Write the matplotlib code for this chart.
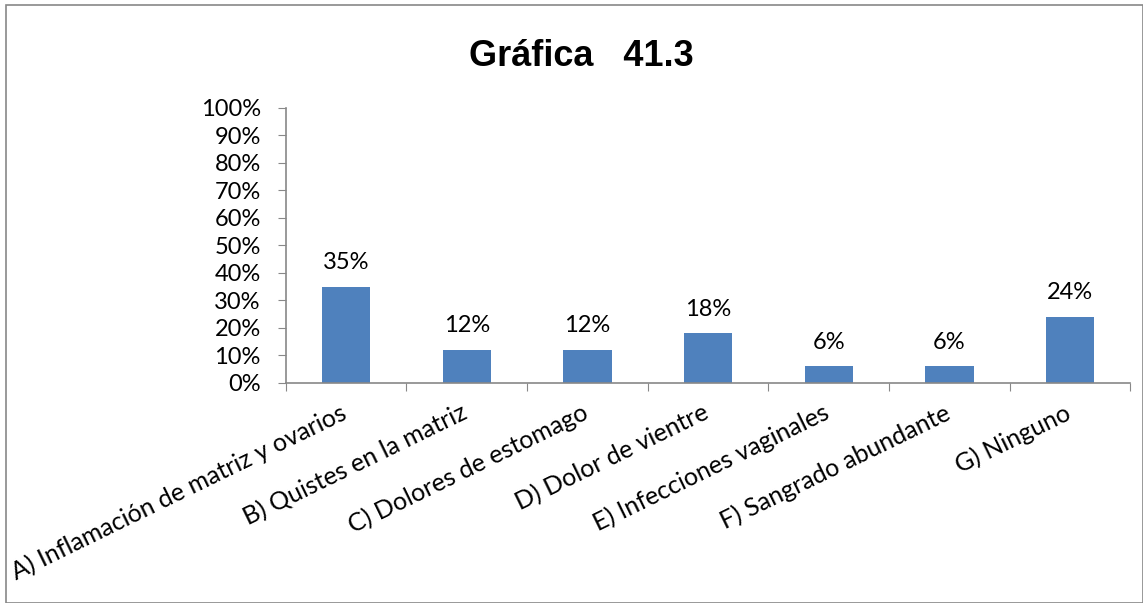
import matplotlib.pyplot as plt
from matplotlib.patches import Rectangle
import numpy as np

categories = ["A) Inflamación de matriz y ovarios", "B) Quistes en la matriz",
              "C) Dolores de estomago", "D) Dolor de vientre",
              "E) Infecciones vaginales", "F) Sangrado abundante", "G) Ninguno"]
values = [35, 12, 12, 18, 6, 6, 24]
yticks = list(range(0, 101, 10))

plt.rcParams['font.family'] = ['Lato', 'DejaVu Sans']

fig = plt.figure(figsize=(11.43, 6.03), dpi=100)
ax = fig.add_axes([0.250, 0.365, 0.739, 0.456])

x = np.arange(len(categories))
ax.bar(x, values, width=0.4, color="#4F81BD")
for i, v in enumerate(values):
    ax.text(i, v + 5, f"{v}%", ha="center", va="bottom", fontsize=17)

ax.set_xlim(-0.5, len(categories) - 0.5)
ax.set_ylim(0, 100)
ax.set_yticks(yticks)
ax.set_yticklabels([f"{t}%" for t in yticks], fontsize=17)
ax.set_xticks(np.arange(-0.5, len(categories) + 0.5, 1))
ax.set_xticklabels([])
ax.tick_params(axis="x", length=6, color="#888888", direction="out")
ax.tick_params(axis="y", length=6, color="#888888", direction="out", pad=12)
for i, c in enumerate(categories):
    ax.text(i - 0.05, -6.5, c, rotation=26, ha="right", va="top",
            rotation_mode="anchor", fontsize=18,
            transform=ax.transData)

for s in ["top", "right"]:
    ax.spines[s].set_visible(False)
for s in ["left", "bottom"]:
    ax.spines[s].set_color("#888888")
    ax.spines[s].set_linewidth(1.2)

fig.text(0.509, 0.907, "Gráfica   41.3", ha="center", va="center",
         fontsize=26, fontweight="bold", family="Liberation Sans")

fig.patches.append(Rectangle((0.005, 0.0), 0.995, 0.992, transform=fig.transFigure,
                             fill=False, edgecolor="#888888", linewidth=1.2))

fig.savefig("out.png", dpi=100)
